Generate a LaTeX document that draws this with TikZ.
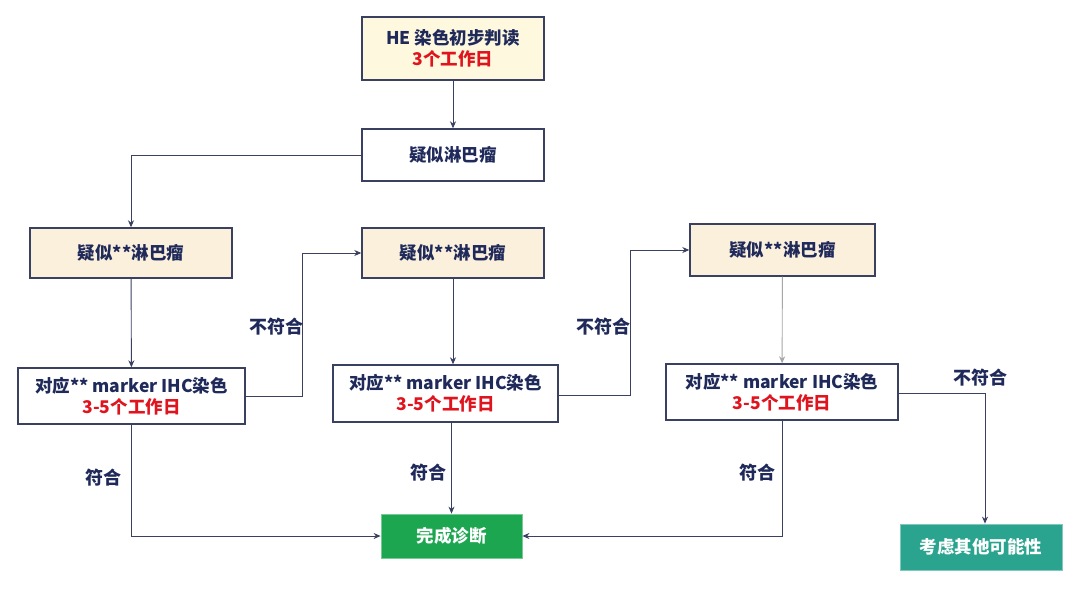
\documentclass[tikz,border=0pt]{standalone}
\usepackage{fontspec}
\setmainfont{Noto Sans CJK SC}
\usetikzlibrary{arrows.meta}
\definecolor{navy}{HTML}{1F2A5A}
\definecolor{linec}{HTML}{3A4060}
\definecolor{redt}{HTML}{E0141E}
\definecolor{beige}{HTML}{FBF0DC}
\definecolor{cream}{HTML}{FDF8DE}
\definecolor{greenb}{HTML}{1CA650}
\definecolor{tealb}{HTML}{2AA48E}
\tikzset{
  box/.style={draw=linec, line width=1.4pt, font=\bfseries\fontsize{17.5}{21}\selectfont, text=navy, align=center, inner sep=0pt},
  conn/.style={draw=linec, line width=0.9pt, -{Stealth[length=7pt,width=6pt]}},
  plain/.style={draw=linec, line width=0.9pt},
  lbl/.style={font=\bfseries\fontsize{18}{21}\selectfont, text=navy},
}
\begin{document}
\begin{tikzpicture}[x=1pt,y=-1pt]
\useasboundingbox[fill=white] (0,0) rectangle (1080,590);
% nodes
\node[box, fill=cream, minimum width=182pt, minimum height=63pt] (he) at (453,48.5) {HE 染色初步判读\\\textcolor{redt}{3个工作日}};
\node[box, fill=white, minimum width=182pt, minimum height=52pt] (sus) at (453,155) {疑似淋巴瘤};
\node[box, fill=beige, minimum width=202pt, minimum height=50pt] (s1) at (131,253) {疑似**淋巴瘤};
\node[box, fill=white, minimum width=227pt, minimum height=56pt] (m1) at (131.5,396) {对应** marker IHC染色\\\textcolor{redt}{3-5个工作日}};
\node[box, fill=beige, minimum width=182pt, minimum height=50pt] (s2) at (453,253) {疑似**淋巴瘤};
\node[box, fill=white, minimum width=225pt, minimum height=57pt] (m2) at (445.5,393.5) {对应** marker IHC染色\\\textcolor{redt}{3-5个工作日}};
\node[box, fill=beige, minimum width=185pt, minimum height=52pt] (s3) at (782.5,250) {疑似**淋巴瘤};
\node[box, fill=white, minimum width=232pt, minimum height=56pt] (m3) at (782,392) {对应** marker IHC染色\\\textcolor{redt}{3-5个工作日}};
\node[box, draw=greenb!60!white, line width=0.8pt, fill=greenb, text=white, minimum width=141pt, minimum height=44pt] (done) at (451.5,536) {完成诊断};
\node[box, draw=tealb!60!white, line width=0.8pt, fill=tealb, text=white, minimum width=162pt, minimum height=46pt] (other) at (981,547) {考虑其他可能性};
% connectors
\draw[conn] (he) -- (sus);
\draw[conn] (sus.west) -| (s1.north);
\draw[conn] (s1) -- (m1);
\coordinate (c1) at (302,396);
\draw[conn] (m1.east) -- (c1) |- (s2.west);
\node[lbl] (l1) at (276,327) {不符合};
\draw[conn] (m1.south) |- (done.west);
\node[lbl] (l2) at (103,478) {符合};
\draw[conn] (s2) -- (m2.north -| s2.south);
\coordinate (c2) at (630,395);
\draw[conn] (m2.east |- c2) -- (c2) |- (s3.west);
\node[lbl] (l3) at (603,327) {不符合};
\draw[conn] (m2.south -| done.north) -- (done.north);
\node[lbl] (l4) at (428,473) {符合};
\draw[draw=gray!70, line width=0.9pt, -{Stealth[length=7pt,width=6pt]}] (s3) -- (m3);
\coordinate (c3) at (985,393);
\draw[conn] (m3.east |- c3) -- (c3) -- (other.north -| c3);
\node[lbl] (l5) at (980,378) {不符合};
\draw[conn] (m3.south) |- (done.east);
\node[lbl] (l6) at (757,473) {符合};
\end{tikzpicture}
\end{document}
